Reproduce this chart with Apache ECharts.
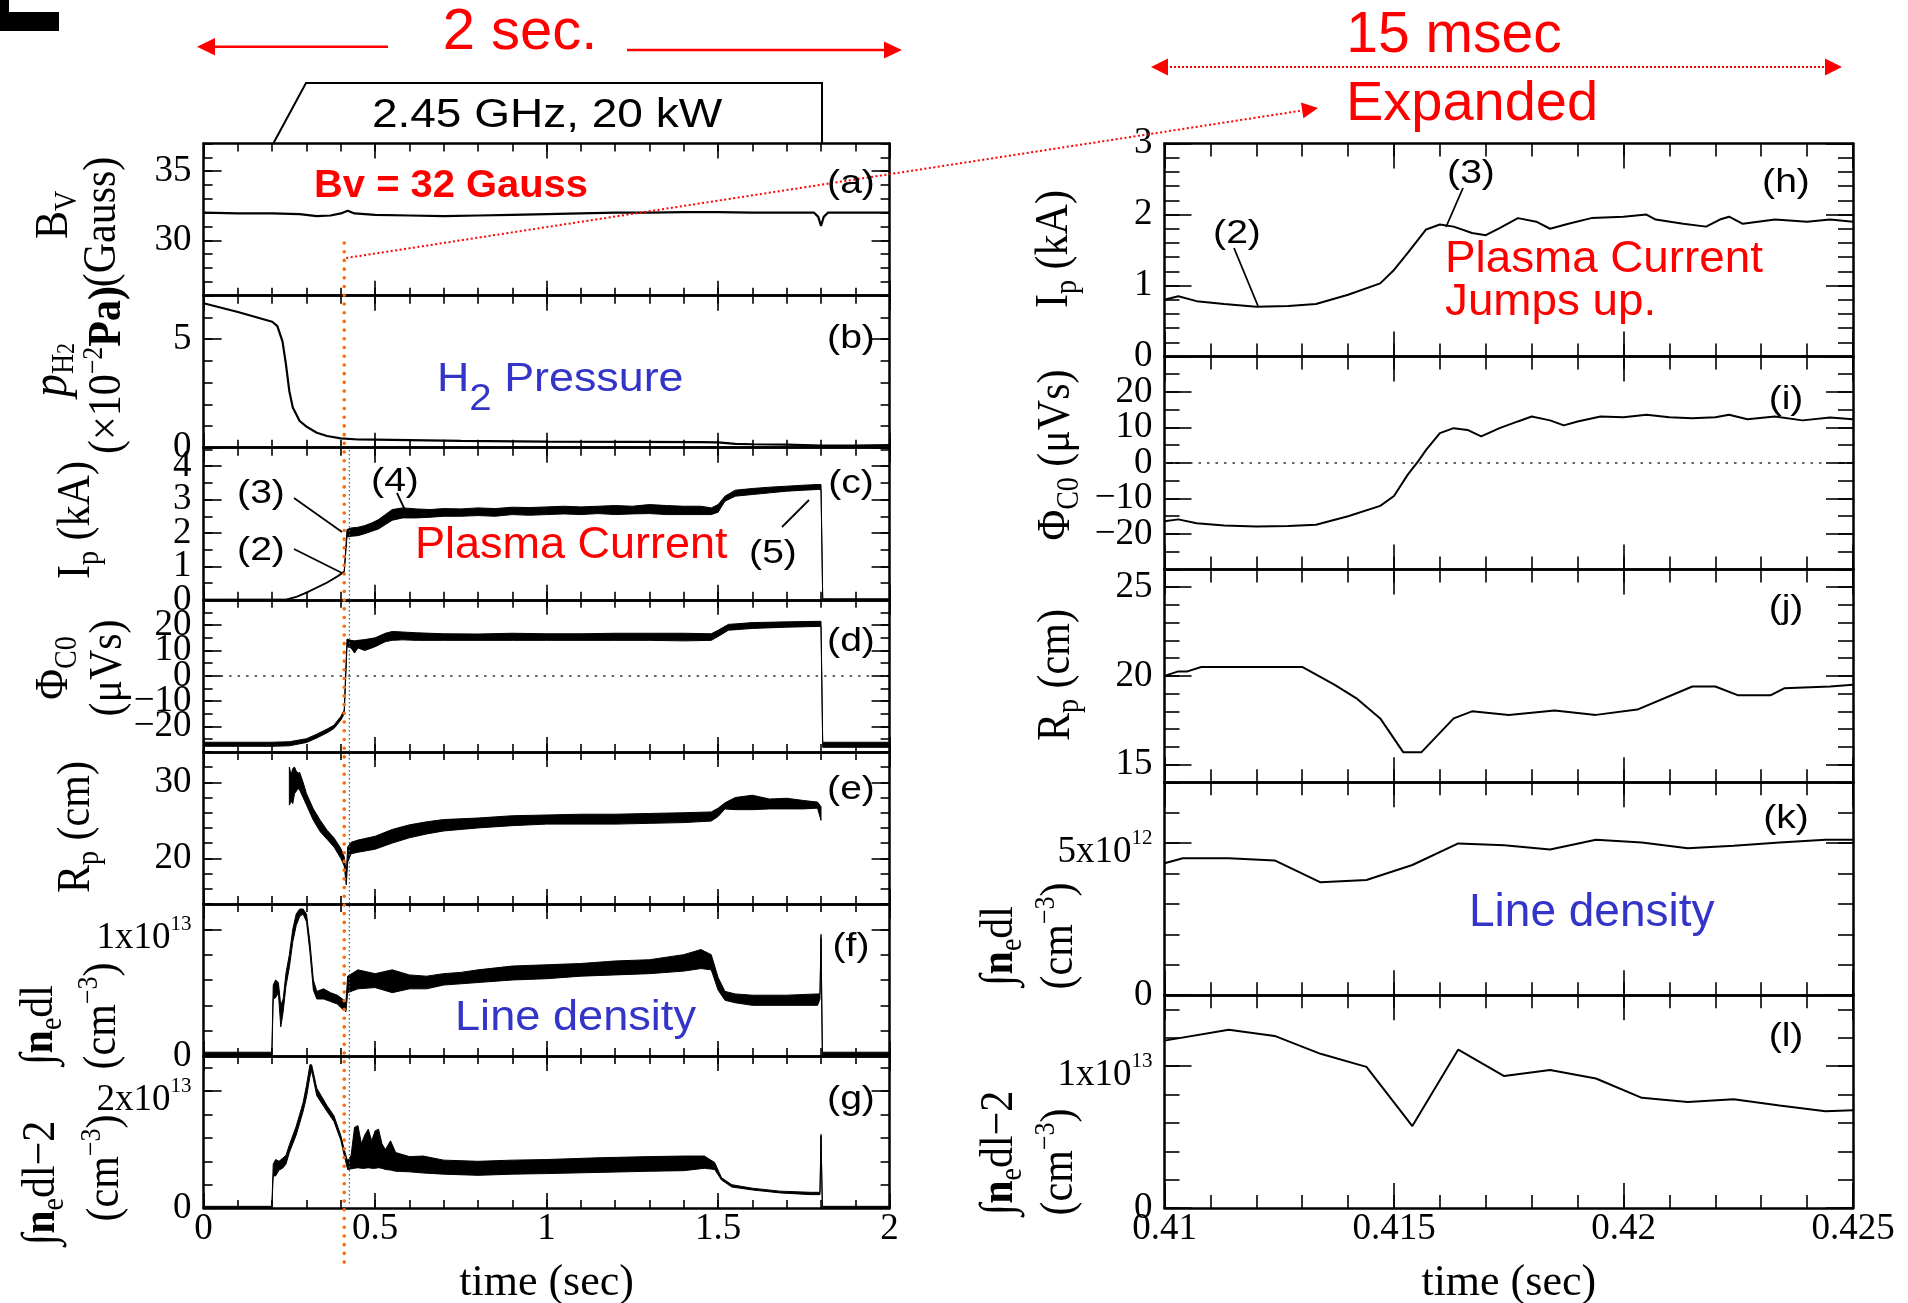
<!DOCTYPE html>
<html>
<head>
<meta charset="utf-8">
<script src="https://cdn.jsdelivr.net/npm/echarts@6.0.0/dist/echarts.min.js"></script>
<style>
html,body{margin:0;padding:0;background:#fff;}
#chart{width:1908px;height:1303px;}
</style>
</head>
<body>
<div id="chart"></div>
<script>
// ================= DATA =================
// left column: time axis 0 .. 2 s
const leftXTicks = [0, 0.5, 1, 1.5, 2];
const rightXTicks = [0.41, 0.415, 0.42, 0.425];

// (a) Bv (Gauss)
const aTicks = [30, 35];
const bvT = [0, 0.1, 0.2, 0.28, 0.33, 0.37, 0.4, 0.42, 0.44, 0.5, 0.6, 0.7, 0.8, 0.9, 1.0, 1.1, 1.2, 1.3, 1.4, 1.5, 1.6, 1.7, 1.78, 1.792, 1.8, 1.808, 1.82, 1.9, 2.0];
const bvV = [32.0, 31.95, 31.95, 31.9, 31.75, 31.8, 31.95, 32.15, 31.95, 31.85, 31.8, 31.75, 31.8, 31.85, 31.9, 31.95, 32.0, 32.0, 32.05, 32.05, 32.0, 32.0, 32.0, 31.7, 31.05, 31.7, 32.0, 32.0, 32.0];

// (b) H2 pressure (x10^-2 Pa)
const bTicks = [0, 5];
const pT = [0, 0.1, 0.2, 0.215, 0.23, 0.24, 0.25, 0.26, 0.28, 0.3, 0.33, 0.36, 0.4, 0.45, 0.5, 0.75, 1.0, 1.25, 1.45, 1.5, 1.55, 1.6, 1.7, 1.8, 1.9, 2.0];
const pV = [6.65, 6.25, 5.8, 5.6, 4.9, 3.85, 2.6, 1.85, 1.23, 0.97, 0.69, 0.54, 0.43, 0.38, 0.37, 0.32, 0.28, 0.27, 0.26, 0.25, 0.18, 0.16, 0.14, 0.1, 0.1, 0.12];

// (c) Ip (kA) : noisy trace, lower / upper envelope
const cTicks = [0, 1, 2, 3, 4];
const ipT  = [0, 0.24, 0.27, 0.30, 0.33, 0.36, 0.39, 0.41, 0.418, 0.43, 0.45, 0.47, 0.49, 0.51, 0.53, 0.55, 0.58, 0.62, 0.66, 0.70, 0.75, 0.80, 0.85, 0.90, 0.95, 1.00, 1.05, 1.10, 1.15, 1.20, 1.25, 1.30, 1.35, 1.40, 1.45, 1.48, 1.50, 1.52, 1.55, 1.60, 1.65, 1.70, 1.75, 1.79, 1.80, 1.805, 1.85, 1.90, 2.0];
const ipLo = [0, 0, 0.07, 0.2, 0.35, 0.5, 0.68, 0.82, 1.88, 1.9, 1.92, 1.98, 2.05, 2.12, 2.25, 2.38, 2.45, 2.45, 2.47, 2.5, 2.5, 2.52, 2.5, 2.55, 2.53, 2.55, 2.57, 2.55, 2.58, 2.55, 2.57, 2.58, 2.55, 2.55, 2.55, 2.55, 2.62, 2.95, 3.1, 3.15, 3.2, 3.25, 3.28, 3.3, 3.3, 0, 0, 0, 0];
const ipHi = [0.02, 0.02, 0.1, 0.23, 0.38, 0.53, 0.72, 0.86, 2.1, 2.15, 2.17, 2.22, 2.3, 2.4, 2.55, 2.7, 2.75, 2.72, 2.7, 2.73, 2.72, 2.75, 2.73, 2.77, 2.76, 2.78, 2.8, 2.78, 2.8, 2.82, 2.8, 2.85, 2.82, 2.8, 2.8, 2.75, 2.85, 3.1, 3.28, 3.33, 3.37, 3.4, 3.43, 3.45, 3.45, 0.03, 0.03, 0.03, 0.03];

// (d) Phi_C0 (uVs)
const dTicks = [-20, -10, 0, 10, 20];
const phT  = [0, 0.1, 0.2, 0.25, 0.3, 0.33, 0.36, 0.38, 0.40, 0.41, 0.418, 0.43, 0.44, 0.45, 0.47, 0.5, 0.53, 0.55, 0.58, 0.62, 0.7, 0.8, 0.9, 1.0, 1.1, 1.2, 1.3, 1.4, 1.48, 1.5, 1.53, 1.6, 1.7, 1.79, 1.8, 1.805, 1.9, 2.0];
const phLo = [-27.8, -27.8, -27.8, -27.6, -26.3, -24.5, -22.5, -20.8, -17.5, -15, 11.5, 11, 9, 11, 10, 11.5, 13.5, 14, 14.2, 14, 14, 14, 14, 14, 14, 14, 14, 13.8, 14, 15.5, 18, 18.7, 19.2, 19.5, 19.5, -28.2, -28.2, -28.2];
const phHi = [-26.2, -26.2, -26.2, -26, -24.8, -23, -21, -19.5, -16, -13.5, 14.5, 14, 13.8, 14, 14.3, 15, 16.8, 17.5, 17.3, 17, 16.6, 16.5, 16.8, 16.6, 16.6, 16.8, 16.8, 16.8, 16.6, 18, 20.3, 21, 21.3, 21.5, 21.5, -26.2, -26.2, -26.2];

// (e) Rp (cm)
const eTicks = [20, 30];
const rpT  = [0.25, 0.255, 0.26, 0.265, 0.27, 0.275, 0.28, 0.29, 0.30, 0.32, 0.34, 0.36, 0.38, 0.40, 0.41, 0.416, 0.42, 0.43, 0.45, 0.5, 0.55, 0.6, 0.65, 0.7, 0.8, 0.9, 1.0, 1.1, 1.2, 1.3, 1.4, 1.48, 1.5, 1.52, 1.55, 1.6, 1.65, 1.7, 1.75, 1.79, 1.8];
const rpLo = [27, 27.5, 27.2, 28.5, 28.8, 29.2, 29, 28, 27, 25, 23.5, 22.5, 21.5, 20, 19, 16.5, 19.5, 20.6, 20.8, 21.2, 22, 22.7, 23.2, 23.6, 24, 24.3, 24.5, 24.5, 24.5, 24.6, 24.7, 24.9, 25.5, 26.5, 26.4, 26.4, 26.5, 26.5, 26.5, 26.6, 25];
const rpHi = [32, 31, 31.8, 32, 31.5, 31.2, 31.3, 30, 28.5, 26.5, 25, 23.7, 22.7, 21.3, 20.2, 18, 21.5, 22.1, 22.4, 22.9, 23.8, 24.4, 24.8, 25.1, 25.3, 25.6, 25.7, 25.8, 25.8, 25.9, 26, 26.1, 26.6, 27.3, 28, 28.3, 27.8, 27.9, 27.6, 27.4, 26.8];

// (f) line density (1e12 cm^-3)
const fTicks = [0, 10];
const fTickText = ['0', '1x10^13'];
const nT  = [0, 0.1, 0.199, 0.203, 0.21, 0.218, 0.225, 0.232, 0.24, 0.25, 0.26, 0.27, 0.28, 0.29, 0.30, 0.31, 0.32, 0.33, 0.35, 0.37, 0.39, 0.405, 0.415, 0.42, 0.45, 0.5, 0.55, 0.6, 0.65, 0.7, 0.75, 0.8, 0.9, 1.0, 1.1, 1.2, 1.3, 1.4, 1.45, 1.48, 1.5, 1.52, 1.55, 1.6, 1.7, 1.79, 1.797, 1.8, 1.804, 1.85, 2.0];
const nLo = [0, 0, 0, 4.5, 4.6, 5, 2.3, 3.5, 5.5, 7, 9, 10.3, 11, 11.2, 10.6, 8.2, 5.2, 4.5, 4.5, 4.3, 4.1, 3.7, 3.5, 5, 5.3, 5.4, 5, 5.3, 5.3, 5.6, 5.7, 5.8, 6, 6.1, 6.3, 6.4, 6.5, 6.7, 6.9, 6.8, 5.2, 4.4, 4.2, 4, 4, 4, 4.5, 9.3, 0, 0, 0];
const nHi = [0.3, 0.3, 0.3, 5.6, 6, 5.8, 4, 4.5, 6.5, 8, 10, 11.2, 11.6, 11.6, 11.2, 9, 6, 5.1, 5.3, 5, 4.8, 4.5, 4.3, 6.3, 6.8, 6.5, 6.8, 6.4, 6.3, 6.5, 6.6, 6.8, 7.1, 7.2, 7.3, 7.5, 7.6, 8, 8.4, 8.0, 6.2, 5.1, 4.9, 4.8, 4.8, 4.9, 4.9, 9.6, 0.3, 0.3, 0.3];

// (g) line density 2 (1e12 cm^-3)
const gTicks = [0, 20];
const gTickText = ['0', '2x10^13'];
const gT  = [0, 0.1, 0.199, 0.203, 0.21, 0.22, 0.23, 0.24, 0.25, 0.27, 0.29, 0.30, 0.31, 0.315, 0.33, 0.36, 0.38, 0.40, 0.41, 0.42, 0.43, 0.44, 0.45, 0.46, 0.47, 0.48, 0.49, 0.50, 0.51, 0.52, 0.53, 0.545, 0.56, 0.6, 0.64, 0.7, 0.8, 0.9, 1.0, 1.15, 1.3, 1.4, 1.46, 1.49, 1.51, 1.54, 1.6, 1.68, 1.77, 1.797, 1.8, 1.804, 1.85, 2.0];
const gLo = [0, 0, 0, 5.5, 5.5, 6.5, 6.8, 7.5, 9.5, 12.5, 16.5, 19, 22.5, 23.5, 19.2, 16.5, 14.8, 11.6, 9, 6.6, 6.7, 6.8, 6.9, 6.8, 6.8, 6.9, 6.8, 6.8, 6.9, 6.8, 6.6, 6.5, 6.3, 6.2, 6, 5.8, 5.6, 5.8, 5.9, 6.1, 6.3, 6.4, 6.8, 6.6, 4.8, 3.6, 3.1, 2.6, 2.3, 2.3, 12.3, 0, 0, 0];
const gHi = [0.3, 0.3, 0.3, 7.5, 8.3, 8, 8.5, 9, 10.8, 14, 18, 21, 24.5, 24.5, 20.5, 17.5, 15.8, 12.4, 10, 8, 9, 13.8, 14.1, 11, 12.5, 13.5, 11.5, 13.2, 13.5, 11, 10, 11.5, 9.5, 8.8, 8.9, 8.2, 8, 8.2, 8.3, 8.6, 8.8, 8.9, 8.9, 7.8, 5.2, 4, 3.4, 2.9, 2.7, 2.7, 12.6, 0.3, 0.3, 0.3];

// right column: time 0.41 .. 0.425 s
// (h) Ip (kA)
const hTicks = [0, 1, 2, 3];
const hT = [0.41, 0.4103, 0.4107, 0.4113, 0.412, 0.4127, 0.4133, 0.414, 0.4147, 0.415, 0.4153, 0.4157, 0.416, 0.4163, 0.4167, 0.417, 0.4173, 0.4177, 0.4181, 0.4184, 0.4188, 0.4193, 0.42, 0.4205, 0.4207, 0.4213, 0.4218, 0.4221, 0.4223, 0.4226, 0.4233, 0.424, 0.4245, 0.425];
const hV = [0.8, 0.85, 0.78, 0.74, 0.70, 0.71, 0.74, 0.87, 1.03, 1.22, 1.46, 1.79, 1.86, 1.83, 1.74, 1.71, 1.81, 1.95, 1.9, 1.8, 1.87, 1.95, 1.97, 2.0, 1.93, 1.87, 1.83, 1.93, 1.97, 1.87, 1.93, 1.9, 1.93, 1.9];

// (i) Phi_C0 (uVs)
const iTicks = [-20, -10, 0, 10, 20];
const iT = [0.41, 0.4103, 0.4107, 0.4113, 0.412, 0.4127, 0.4133, 0.414, 0.4147, 0.415, 0.4153, 0.4155, 0.4157, 0.416, 0.4163, 0.4166, 0.4169, 0.4173, 0.4177, 0.418, 0.4184, 0.4187, 0.419, 0.4195, 0.42, 0.4205, 0.421, 0.4215, 0.422, 0.4223, 0.4227, 0.4233, 0.4239, 0.4245, 0.425];
const iV = [-16.4, -15.9, -17, -17.6, -17.9, -17.8, -17.4, -15, -12.1, -9.3, -3.3, 0, 3.7, 8.4, 9.8, 9.3, 7.5, 9.8, 11.7, 13.1, 12, 10.6, 11.7, 13.1, 12.9, 13.6, 12.9, 12.6, 12.9, 13.6, 12.3, 13.1, 12, 12.8, 12.3];

// (j) Rp (cm)
const jTicks = [15, 20, 25];
const jT = [0.41, 0.4103, 0.4105, 0.4108, 0.413, 0.4137, 0.4142, 0.4147, 0.4152, 0.4156, 0.4163, 0.4167, 0.4175, 0.4185, 0.4194, 0.4203, 0.4215, 0.422, 0.4225, 0.4232, 0.4235, 0.4245, 0.425];
const jV = [20.0, 20.25, 20.25, 20.5, 20.5, 19.5, 18.7, 17.6, 15.7, 15.7, 17.6, 18.0, 17.8, 18.05, 17.8, 18.1, 19.4, 19.4, 18.9, 18.9, 19.3, 19.4, 19.5];

// (k) line density (1e12 cm^-3)
const kTicks = [0, 5];
const kTickText = ['0', '5x10^12'];
const kT = [0.41, 0.4104, 0.4114, 0.4124, 0.4134, 0.4144, 0.4154, 0.4164, 0.4174, 0.4184, 0.4194, 0.4204, 0.4214, 0.4224, 0.4234, 0.4244, 0.425];
const kV = [4.34, 4.5, 4.5, 4.43, 3.71, 3.79, 4.28, 4.99, 4.93, 4.79, 5.11, 5.02, 4.83, 4.91, 5.02, 5.11, 5.11];

// (l) line density 2 (1e12 cm^-3)
const lTicks = [0, 10];
const lTickText = ['0', '1x10^13'];
const lT = [0.41, 0.4114, 0.4124, 0.4134, 0.4144, 0.4154, 0.4164, 0.4174, 0.4184, 0.4194, 0.4204, 0.4214, 0.4224, 0.4234, 0.4244, 0.425];
const lV = [11.8, 12.57, 12.13, 10.87, 9.95, 5.78, 11.17, 9.3, 9.73, 9.13, 7.77, 7.48, 7.67, 7.23, 6.82, 6.9];

// ================= LAYOUT / STYLE =================
const SERIF = '"Liberation Serif", "Times New Roman", serif';
const SANS = '"Liberation Sans", Arial, Helvetica, sans-serif';
const RED = '#ff0000', BLUE = '#3434c8', ORANGE = '#ff6a00';
const LCOL = {left: 203.6, width: 686, top: 143.6, h: 152.07};
const RCOL = {left: 1164.5, width: 688.5, top: 143.6, h: 212.9};

const grids = [], xAxes = [], yAxes = [], series = [];

function minorVals(min, max, step) {
  const out = [];
  let k = Math.ceil(min / step - 1e-9);
  for (; k * step <= max + 1e-9; k++) out.push(+(k * step).toFixed(8));
  return out.filter(v => v >= min && v <= max);
}
const labelRich = {
  m: {fontFamily: SERIF, fontSize: 37, color: '#000', lineHeight: 38, padding: [18, 0, 0, 0]},
  s: {fontFamily: SERIF, fontSize: 21, color: '#000', lineHeight: 24, verticalAlign: 'top', padding: [4, 0, 0, 0]}
};
function fmtTick(ticks, texts) {
  return function (v) {
    let s = String(v);
    if (texts) {
      const i = ticks.findIndex(t => Math.abs(t - v) < 1e-9);
      if (i >= 0) s = texts[i];
    }
    if (s.indexOf('^') >= 0) {
      const parts = s.split('^');
      return '{m|' + parts[0] + '}{s|' + parts[1] + '}';
    }
    return s.replace('-', '\u2212');
  };
}
function axisDef(o) {
  const a = {
    type: 'value', gridIndex: o.gi, position: o.pos, min: o.min, max: o.max, silent: true,
    splitLine: {show: false}, splitArea: {show: false},
    axisLine: {show: !!o.line, onZero: false, lineStyle: {color: '#000', width: 2.5}},
    axisTick: o.ticks ? {show: true, inside: true, length: o.len, lineStyle: {color: '#000', width: 1.6}, customValues: o.ticks} : {show: false},
    axisLabel: {show: false},
    axisPointer: {show: false}
  };
  if (o.labels) {
    a.axisLabel = {show: true, customValues: o.labels, interval: 0, margin: o.margin, color: '#000',
      showMinLabel: true, showMaxLabel: true, hideOverlap: false, lineHeight: 22,
      fontFamily: SERIF, fontSize: 37, formatter: fmtTick(o.lookup || o.labels, o.texts), rich: labelRich};
  }
  if (o.name) {
    a.name = o.name; a.nameLocation = 'middle'; a.nameGap = o.nameGap; a.nameMoveOverlap = false;
    a.nameTextStyle = {fontFamily: SERIF, fontSize: 44, color: '#000'};
  }
  return a;
}
// returns [xAxisIndex, yAxisIndex] of main axes
function panel(col, idx, yMin, yMax, yTicks, yMinorStep, yTexts, showX) {
  const g = col === 'L' ? LCOL : RCOL;
  const gi = grids.length;
  grids.push({left: g.left, top: g.top + idx * g.h, width: g.width, height: g.h,
    containLabel: false, outerBoundsMode: 'none', show: false});
  const xr = col === 'L' ? [0, 2] : [0.41, 0.425];
  const xT = col === 'L' ? leftXTicks : rightXTicks;
  const xStep = col === 'L' ? 0.1 : 0.001;
  const len = col === 'L' ? {xM: 15, xm: 8, yM: 18, ym: 9} : {xM: 25, xm: 13, yM: 27, ym: 15};
  const xi = xAxes.length, yi = yAxes.length;
  ['bottom', 'top'].forEach(pos => {
    xAxes.push(axisDef({gi, pos, min: xr[0], max: xr[1], ticks: xT, len: len.xM, line: true,
      labels: (pos === 'bottom' && showX) ? xT : null, margin: 10,
      name: (pos === 'bottom' && showX) ? 'time (sec)' : null, nameGap: 53}));
    xAxes.push(axisDef({gi, pos, min: xr[0], max: xr[1], ticks: minorVals(xr[0], xr[1], xStep), len: len.xm}));
  });
  const yT = yTicks.filter(v => v >= yMin && v <= yMax);
  const even = yT.filter((v, k) => k % 2 === 0), odd = yT.filter((v, k) => k % 2 === 1);
  ['left', 'right'].forEach(pos => {
    yAxes.push(axisDef({gi, pos, min: yMin, max: yMax, ticks: yT, len: len.yM, line: true,
      labels: pos === 'left' ? even : null, lookup: yTicks, margin: 12, texts: yTexts}));
    yAxes.push(axisDef({gi, pos, min: yMin, max: yMax, ticks: minorVals(yMin, yMax, yMinorStep), len: len.ym}));
  });
  if (odd.length) {
    yAxes.push(axisDef({gi, pos: 'left', min: yMin, max: yMax, ticks: null, labels: odd, lookup: yTicks, margin: 12, texts: yTexts}));
  }
  return [xi, yi];
}
function zip(a, b) { return a.map((v, i) => [v, b[i]]); }
function lineSeries(ax, T, V, width) {
  return {type: 'line', xAxisIndex: ax[0], yAxisIndex: ax[1], data: zip(T, V), symbol: 'none', showSymbol: false,
    lineStyle: {color: '#000', width: width || 2}, animation: false, silent: true, clip: true, z: 5};
}
function bandSeries(ax, T, LO, HI) {
  const pts = T.map((t, i) => [t, LO[i], HI[i]]);
  return {type: 'custom', xAxisIndex: ax[0], yAxisIndex: ax[1], data: pts, encode: {x: 0, y: [1, 2]},
    clip: true, animation: false, silent: true, z: 5,
    renderItem: function (params, api) {
      if (params.dataIndex !== 0) return null;
      const up = pts.map(d => api.coord([d[0], d[2]]));
      const dn = pts.map(d => api.coord([d[0], d[1]])).reverse();
      return {type: 'polygon', shape: {points: up.concat(dn)},
        style: {fill: '#000', stroke: '#000', lineWidth: 1, lineJoin: 'round'}};
    }};
}
function zeroLine(ax) {
  return {type: 'line', xAxisIndex: ax[0], yAxisIndex: ax[1], data: [], symbol: 'none', animation: false, silent: true,
    markLine: {silent: true, symbol: 'none', animation: false, label: {show: false},
      lineStyle: {color: '#333', width: 1.6, type: [2.5, 6]}, data: [{yAxis: 0}]}};
}

// left panels
const pa = panel('L', 0, 26, 37, aTicks, 1, null, false);
const pb = panel('L', 1, 0, 7, bTicks, 1, null, false);
const pc = panel('L', 2, 0, 4.55, cTicks, 0.5, null, false);
const pd = panel('L', 3, -30, 30, dTicks, 5, null, false);
const pe = panel('L', 4, 14, 34, eTicks, 2, null, false);
const pf = panel('L', 5, 0, 12, fTicks, 2, fTickText, false);
const pg = panel('L', 6, 0, 26, gTicks, 4, gTickText, true);
// right panels
const ph = panel('R', 0, 0, 3, hTicks, 0.2, null, false);
const pi = panel('R', 1, -30, 30, iTicks, 5, null, false);
const pj = panel('R', 2, 14, 26, jTicks, 1, null, false);
const pk = panel('R', 3, 0, 7, kTicks, 1, kTickText, false);
const pl = panel('R', 4, 0, 15, lTicks, 2, lTickText, true);

series.push(lineSeries(pa, bvT, bvV, 2.2));
series.push(lineSeries(pb, pT, pV, 2.2));
series.push(bandSeries(pc, ipT, ipLo, ipHi));
series.push(zeroLine(pd));
series.push(bandSeries(pd, phT, phLo, phHi));
series.push(bandSeries(pe, rpT, rpLo, rpHi));
series.push(bandSeries(pf, nT, nLo, nHi));
series.push(bandSeries(pg, gT, gLo, gHi));
series.push(lineSeries(ph, hT, hV, 2));
series.push(zeroLine(pi));
series.push(lineSeries(pi, iT, iV, 2));
series.push(lineSeries(pj, jT, jV, 2));
series.push(lineSeries(pk, kT, kV, 2));
series.push(lineSeries(pl, lT, lV, 2));

const chart = echarts.init(document.getElementById('chart'), null, {renderer: 'canvas', width: 1908, height: 1303});
chart.setOption({
  backgroundColor: '#fff', animation: false,
  grid: grids, xAxis: xAxes, yAxis: yAxes, series: series
});

// ================= ANNOTATIONS =================
const x410 = chart.convertToPixel({xAxisIndex: pa[0]}, 0.41);
const x425 = chart.convertToPixel({xAxisIndex: pa[0]}, 0.425);

function txt(x, y, text, o) {
  o = o || {};
  return {type: 'text', x: x, y: y, z: 60, silent: true, rotation: o.rot || 0,
    scaleX: o.sx || 1, scaleY: o.sy || 1,
    style: {text: text, fill: o.color || '#000', fontSize: o.size || 34, fontFamily: o.font || SANS,
      fontWeight: o.weight || 'normal', align: o.align || 'center', verticalAlign: o.va || 'middle',
      textAlign: o.align || 'center', textVerticalAlign: o.va || 'middle', rich: o.rich}};
}
function seg(x1, y1, x2, y2, o) {
  o = o || {};
  return {type: 'line', z: 60, silent: true, shape: {x1, y1, x2, y2},
    style: {stroke: o.color || '#000', lineWidth: o.w || 1.8, lineDash: o.dash || null, lineCap: o.cap || 'butt'}};
}
function tri(p) {
  return {type: 'polygon', z: 60, silent: true, shape: {points: p}, style: {fill: RED}};
}
const titleRich = {
  m: {fontFamily: SERIF, fontSize: 42, lineHeight: 50, fill: '#000'},
  mi: {fontFamily: SERIF, fontSize: 46, fontStyle: 'italic', lineHeight: 50, fill: '#000'},
  mb: {fontFamily: SERIF, fontSize: 42, fontWeight: 'bold', lineHeight: 50, fill: '#000'},
  sb: {fontFamily: SERIF, fontSize: 28, lineHeight: 30, verticalAlign: 'bottom', fill: '#000'},
  ssb: {fontFamily: SERIF, fontSize: 22, lineHeight: 22, verticalAlign: 'bottom', fill: '#000'},
  sp: {fontFamily: SERIF, fontSize: 26, lineHeight: 28, verticalAlign: 'top', fill: '#000'}
};
function rtitle(x, y, t) {
  return txt(x, y, t, {rot: Math.PI / 2, sy: 1.12, rich: titleRich, size: 42, font: SERIF});
}
const PL = {size: 34, sx: 1.15};   // style for panel letters
const els = [
  {type: 'rect', z: 60, shape: {x: 0, y: 12, width: 59, height: 19}, style: {fill: '#000'}},
  {type: 'rect', z: 60, shape: {x: 0, y: 0, width: 9, height: 13}, style: {fill: '#000'}},
  // 2 sec.
  txt(520, 33, '2 sec.', {size: 58, color: RED}),
  seg(212, 46.7, 388, 46.7, {color: RED, w: 2.6}),
  tri([[197, 46.7], [215, 38], [215, 55.4]]),
  seg(627, 50, 887, 50, {color: RED, w: 2.6}),
  tri([[902, 50], [884, 41.5], [884, 58.5]]),
  // microwave box
  {type: 'polyline', z: 60, silent: true, shape: {points: [[273, 144], [306, 83], [822, 83], [822, 144]]},
    style: {stroke: '#000', lineWidth: 2, fill: null}},
  txt(547, 116, '2.45 GHz, 20 kW', {size: 40, sx: 1.15}),
  txt(451, 187, 'Bv = 32 Gauss', {size: 38, sx: 1.05, weight: 'bold', color: RED}),
  // 15 msec / Expanded
  txt(1454, 36, '15 msec', {size: 57, color: RED}),
  seg(1166, 67, 1827, 67, {color: RED, w: 2.2, dash: [2, 2]}),
  tri([[1151, 67], [1168, 58.5], [1168, 75.5]]),
  tri([[1842, 67], [1825, 58.5], [1825, 75.5]]),
  txt(1472, 105, 'Expanded', {size: 56, color: RED}),
  seg(x410 + 2, 258, 1303, 110.4, {color: RED, w: 2, dash: [2, 2.5]}),
  tri([[1318, 108], [1303.4, 118.3], [1301, 102.5]]),
  // vertical markers
  seg(x410, 243, x410, 1263, {color: ORANGE, w: 3.6, dash: [0.01, 8.7], cap: 'round'}),
  seg(x425, 450, x425, 1206, {color: '#555', w: 1.2, dash: [1.5, 2.5]}),
  // in-plot texts
  {type: 'text', x: 437, y: 360, z: 60, silent: true, scaleX: 1.12,
    style: {text: '{a|H}{b|2}{a| Pressure}', align: 'left', verticalAlign: 'top', textAlign: 'left', textVerticalAlign: 'top', fill: BLUE,
      rich: {a: {fontFamily: SANS, fontSize: 40, lineHeight: 40, verticalAlign: 'top', fill: BLUE},
             b: {fontFamily: SANS, fontSize: 36, lineHeight: 36, padding: [22, 0, 0, 0], verticalAlign: 'top', fill: BLUE}}}},
  txt(415, 546, 'Plasma Current', {size: 45, color: RED, align: 'left'}),
  txt(455, 1018, 'Line density', {size: 43, sx: 1.05, color: BLUE, align: 'left'}),
  txt(1445, 260, 'Plasma Current', {size: 44, sx: 1.04, color: RED, align: 'left'}),
  txt(1445, 303, 'Jumps up.', {size: 44, sx: 1.04, color: RED, align: 'left'}),
  txt(1469, 913, 'Line density', {size: 46, color: BLUE, align: 'left'}),
  // panel letters
  txt(851, 184, '(a)', PL), txt(851, 339, '(b)', PL), txt(851, 484, '(c)', PL), txt(851, 642, '(d)', PL),
  txt(851, 790, '(e)', PL), txt(851, 947, '(f)', PL), txt(851, 1100, '(g)', PL),
  txt(1786, 183, '(h)', PL), txt(1786, 400, '(i)', PL), txt(1786, 609, '(j)', PL),
  txt(1786, 819, '(k)', PL), txt(1786, 1037, '(l)', PL),
  // numbered annotations
  txt(261, 494, '(3)', PL), seg(294, 498, 342, 532),
  txt(261, 551, '(2)', PL), seg(294, 549, 342, 573),
  txt(395, 482, '(4)', PL), seg(397, 493, 405, 510),
  txt(773, 554, '(5)', PL), seg(782, 527, 809, 500),
  txt(1237, 234, '(2)', PL), seg(1234, 248, 1258, 306),
  txt(1471, 174, '(3)', PL), seg(1463, 188, 1446, 227),
  // axis titles (rotated)
  rtitle(55, 215, '{m|B}{sb|V}'), rtitle(103, 222, '{m|(Gauss)}'),
  rtitle(52, 370, '{mi|p}{sb|H}{ssb|2}'), rtitle(108, 370, '{m|(\u00d710}{sp|\u22122}{mb|Pa)}'),
  rtitle(77, 520, '{m|I}{sb|p}{m| (kA)}'),
  rtitle(55, 668, '{m|\u03a6}{sb|C0}'), rtitle(109, 668, '{m|(\u03bcVs)}'),
  rtitle(77, 827, '{m|R}{sb|p}{m| (cm)}'),
  rtitle(40, 1025, '{m|\u222b}{mb|n}{sb|e}{m|dl}'), rtitle(103, 1016, '{m|(cm}{sp|\u22123}{m|)}'),
  rtitle(42, 1183, '{m|\u222b}{mb|n}{sb|e}{m|dl\u22122}'), rtitle(106, 1168, '{m|(cm}{sp|\u22123}{m|)}'),
  rtitle(1055, 249, '{m|I}{sb|p}{m| (kA)}'),
  rtitle(1057, 455, '{m|\u03a6}{sb|C0}{m| (\u03bcVs)}'),
  rtitle(1057, 675, '{m|R}{sb|p}{m| (cm)}'),
  rtitle(1000, 946, '{m|\u222b}{mb|n}{sb|e}{m|dl}'), rtitle(1060, 936, '{m|(cm}{sp|\u22123}{m|)}'),
  rtitle(1000, 1153, '{m|\u222b}{mb|n}{sb|e}{m|dl\u22122}'), rtitle(1060, 1162, '{m|(cm}{sp|\u22123}{m|)}')
];
chart.setOption({graphic: {elements: els}});
</script>
</body>
</html>
